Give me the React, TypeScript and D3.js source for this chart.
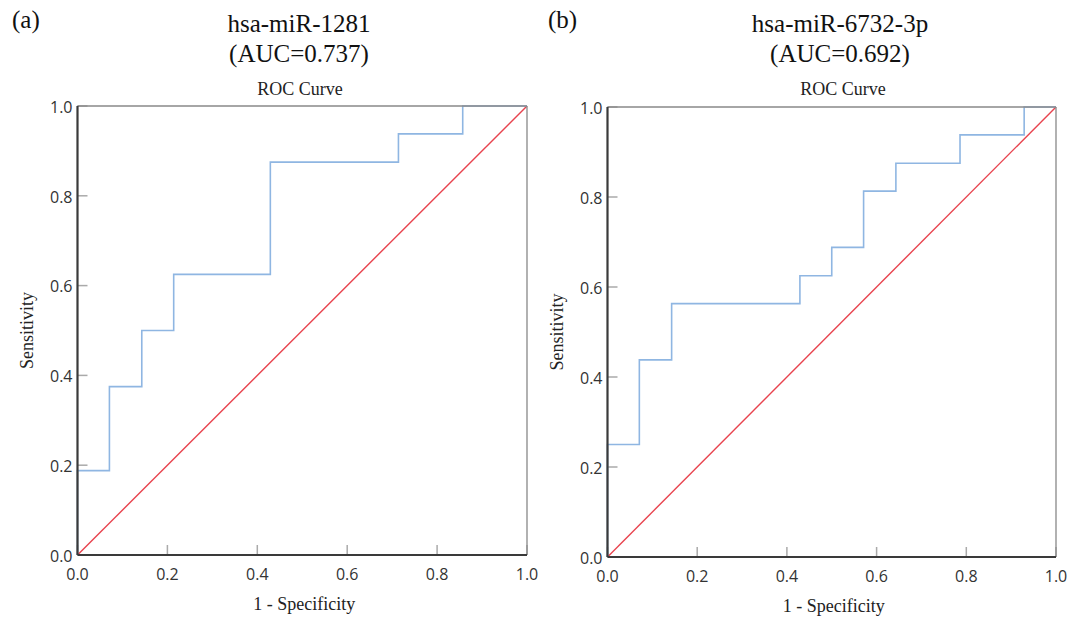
// ROC curves for two miRNAs, drawn with D3 scales + shapes
import * as d3 from "d3";

// data -------------------------------------------------------------
const ticks = [0, 0.2, 0.4, 0.6, 0.8, 1.0];

// panel (a): hsa-miR-1281
const fprA = [0, 0, 0.071, 0.143, 0.214, 0.429, 0.714, 0.857, 1.0];
const tprA = [0, 0.188, 0.375, 0.5, 0.625, 0.875, 0.938, 1.0, 1.0];

// panel (b): hsa-miR-6732-3p
const fprB = [0, 0, 0.071, 0.143, 0.429, 0.5, 0.571, 0.643, 0.786, 0.929, 1.0];
const tprB = [0, 0.25, 0.438, 0.563, 0.625, 0.688, 0.813, 0.875, 0.938, 1.0, 1.0];

const panelLetters = ["(a)", "(b)"];
const markerNames = ["hsa-miR-1281", "hsa-miR-6732-3p"];
const aucLabels = ["(AUC=0.737)", "(AUC=0.692)"];

const serif = "'Liberation Serif', 'Times New Roman', serif";
const sans = "'Open Sans', 'Noto Sans', sans-serif";

type PanelProps = {
  fpr: number[];
  tpr: number[];
  letter: string;
  name: string;
  auc: string;
  left: number;
  right: number;
  top: number;
  bottom: number;
  titleX: number;
  rocX: number;
  letterX: number;
};

function RocPanel({ fpr, tpr, letter, name, auc, left, right, top, bottom, titleX, rocX, letterX }: PanelProps) {
  const x = d3.scaleLinear([0, 1], [left, right]);
  const y = d3.scaleLinear([0, 1], [bottom, top]);
  const pts: [number, number][] = fpr.map((f, i) => [f, tpr[i]]);
  const step = d3.line<[number, number]>()
    .x(d => x(d[0]))
    .y(d => y(d[1]))
    .curve(d3.curveStepAfter);
  const diag = d3.line<[number, number]>().x(d => x(d[0])).y(d => y(d[1]));
  const fmt = d3.format(".1f");
  const midX = (left + right) / 2;
  const midY = (top + bottom) / 2;

  return (
    <g>
      {/* headings */}
      <text x={letterX} y={28} fontFamily={serif} fontSize={25} fill="#111">{letter}</text>
      <text x={titleX} y={32} textAnchor="middle" fontFamily={serif} fontSize={25} fill="#111">{name}</text>
      <text x={titleX} y={62} textAnchor="middle" fontFamily={serif} fontSize={25} fill="#111">{auc}</text>
      <text x={rocX} y={95} textAnchor="middle" fontFamily={serif} fontSize={18} fill="#222">ROC Curve</text>

      {/* inward ticks */}
      {ticks.map(t => (
        <line key={"yt" + t} x1={left} x2={left + 10} y1={y(t)} y2={y(t)} stroke="#aaa" strokeWidth={1.5} />
      ))}
      {ticks.map(t => (
        <line key={"xt" + t} x1={x(t)} x2={x(t)} y1={bottom} y2={bottom - 10} stroke="#aaa" strokeWidth={1.5} />
      ))}

      {/* diagonal reference + ROC curve */}
      <path d={diag([[0, 0], [1, 1]]) ?? ""} fill="none" stroke="#e8434e" strokeWidth={1.4} />
      <path d={step(pts) ?? ""} fill="none" stroke="#8fb6e2" strokeWidth={1.6} />

      {/* frame: top + right thin grey */}
      <line x1={left} x2={right} y1={top} y2={top} stroke="#888" strokeWidth={1.3} />
      <line x1={right} x2={right} y1={top} y2={bottom} stroke="#888" strokeWidth={1.3} />

      {/* axes: left + bottom thick */}
      <line x1={left} x2={left} y1={top} y2={bottom} stroke="#3a3a3a" strokeWidth={2.2} />
      <line x1={left} x2={right} y1={bottom} y2={bottom} stroke="#3a3a3a" strokeWidth={2.2} />

      {/* tick labels */}
      {ticks.map(t => (
        <text key={"yl" + t} x={left - 5} y={y(t)} dy="0.42em" textAnchor="end"
          fontFamily={sans} fontSize={16} fill="#333">{fmt(t)}</text>
      ))}
      {ticks.map(t => (
        <text key={"xl" + t} x={x(t)} y={bottom + 25} textAnchor="middle"
          fontFamily={sans} fontSize={16} fill="#333">{fmt(t)}</text>
      ))}

      {/* axis titles */}
      <text x={midX + 2} y={bottom + 55} textAnchor="middle" fontFamily={serif} fontSize={18} fill="#222">1 - Specificity</text>
      <text transform={`translate(${left - 45},${midY}) rotate(-90)`} textAnchor="middle"
        fontFamily={serif} fontSize={18} fill="#222">Sensitivity</text>
    </g>
  );
}

export default function App() {
  const width = 1083;
  const height = 617;
  return (
    <svg width={width} height={height} style={{ position: "absolute", left: 0, top: 0, background: "#fff" }}>
      <rect width={width} height={height} fill="#fff" />
      <RocPanel fpr={fprA} tpr={tprA} letter={panelLetters[0]} name={markerNames[0]} auc={aucLabels[0]}
        left={77.5} right={527} top={106} bottom={555} titleX={299} rocX={300} letterX={12} />
      <RocPanel fpr={fprB} tpr={tprB} letter={panelLetters[1]} name={markerNames[1]} auc={aucLabels[1]}
        left={607.5} right={1056} top={107} bottom={557} titleX={840} rocX={843} letterX={548} />
    </svg>
  );
}
